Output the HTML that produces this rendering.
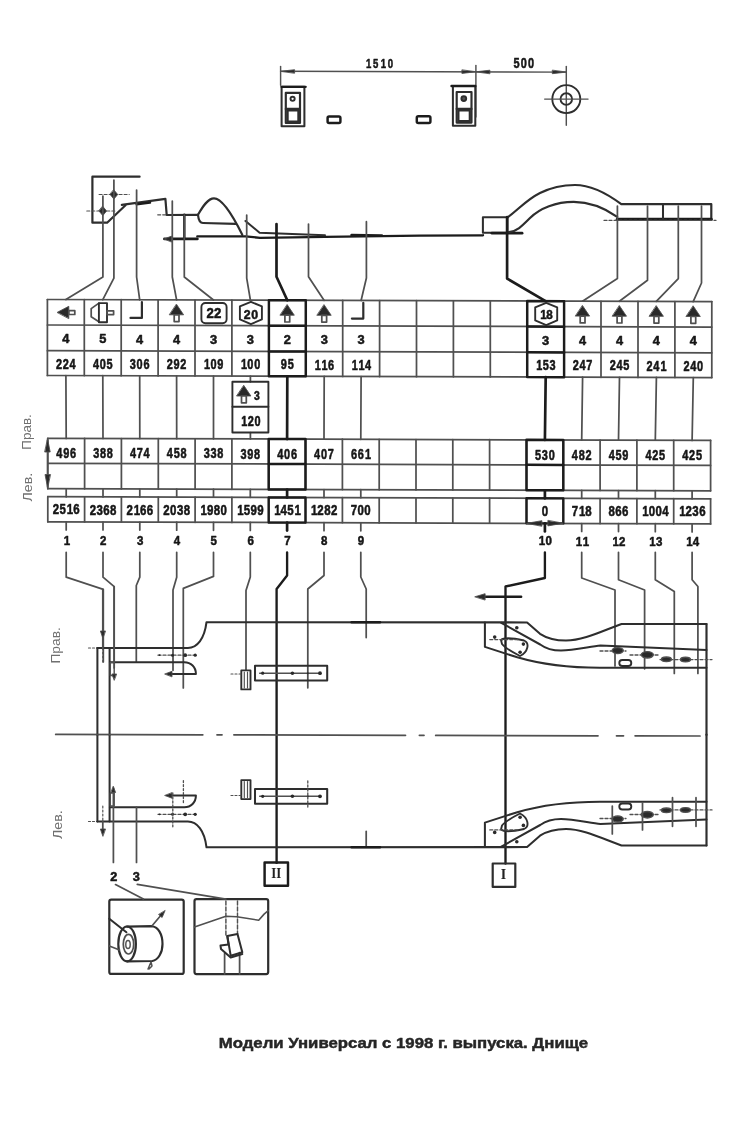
<!DOCTYPE html>
<html><head><meta charset="utf-8"><title>Днище</title>
<style>
html,body{margin:0;padding:0;background:#fff;}
body{width:733px;height:1126px;overflow:hidden;}
svg{display:block;will-change:transform;}
.d{font-family:"Liberation Sans",sans-serif;font-weight:bold;stroke:#161616;stroke-width:0.55px;}
.lb{font-family:"Liberation Sans",sans-serif;font-size:13.5px;fill:#707070;}
.cap{font-family:"Liberation Sans",sans-serif;font-weight:bold;font-size:14px;fill:#262626;}
</style></head><body>
<svg width="733" height="1126" viewBox="0 0 733 1126" stroke-linecap="round" stroke-linejoin="round">
<rect width="733" height="1126" fill="#fff"/>
<line x1="280.6" y1="71.3" x2="566.3" y2="72.1" stroke="#505050" stroke-width="1.45" />
<line x1="280.6" y1="66.4" x2="280.6" y2="85.2" stroke="#505050" stroke-width="1.45" />
<line x1="475.9" y1="65.5" x2="475.9" y2="117.0" stroke="#505050" stroke-width="1.45" />
<line x1="566.3" y1="66.4" x2="566.3" y2="125.3" stroke="#505050" stroke-width="1.45" />
<path d="M280.6,71.3 L294.6,69.7 L294.6,72.9 Z" stroke="#505050" stroke-width="0.87" fill="#2a2a2a" />
<path d="M475.9,71.8 L461.9,73.4 L461.9,70.2 Z" stroke="#505050" stroke-width="0.87" fill="#2a2a2a" />
<path d="M475.9,71.8 L489.9,70.2 L489.9,73.4 Z" stroke="#505050" stroke-width="0.87" fill="#2a2a2a" />
<path d="M566.3,72.1 L552.3,73.7 L552.3,70.5 Z" stroke="#505050" stroke-width="0.87" fill="#2a2a2a" />
<text transform="translate(0,67.6) scale(0.72,1)" x="512.08 521.81 532.64 542.36" y="0" font-size="13.3" text-anchor="middle" class="d" fill="#161616">1510</text>
<text transform="translate(0,68.3) scale(0.78,1)" x="662.31 671.54 680.77" y="0" font-size="14.0" text-anchor="middle" class="d" fill="#161616">500</text>
<rect x="281.6" y="86.8" width="22.8" height="39.5" rx="0" stroke="#2e2e2e" stroke-width="2.03" fill="none"/>
<line x1="281.6" y1="86.8" x2="305.6" y2="86.8" stroke="#1c1c1c" stroke-width="2.35" />
<rect x="285.8" y="92.8" width="14.2" height="30.2" rx="0" stroke="#2e2e2e" stroke-width="2.17" fill="none"/>
<line x1="285.8" y1="108.9" x2="300.0" y2="108.9" stroke="#2e2e2e" stroke-width="2.20" />
<rect x="287.6" y="110.4" width="10.8" height="11.2" rx="0" stroke="#2e2e2e" stroke-width="2.20" fill="none"/>
<circle cx="292.6" cy="98.8" r="2.1" stroke="#2e2e2e" stroke-width="1.89" fill="none"/>
<rect x="452.9" y="86.0" width="22.4" height="39.8" rx="0" stroke="#2e2e2e" stroke-width="2.03" fill="none"/>
<line x1="451.5" y1="86.0" x2="475.3" y2="86.0" stroke="#1c1c1c" stroke-width="2.35" />
<rect x="456.7" y="92.0" width="14.8" height="30.6" rx="0" stroke="#2e2e2e" stroke-width="2.17" fill="none"/>
<line x1="456.7" y1="108.9" x2="471.5" y2="108.9" stroke="#2e2e2e" stroke-width="2.20" />
<rect x="458.4" y="110.4" width="11.4" height="10.7" rx="0" stroke="#2e2e2e" stroke-width="2.20" fill="none"/>
<circle cx="463.8" cy="98.6" r="2.4" stroke="#2e2e2e" stroke-width="1.89" fill="#555"/>
<rect x="327.6" y="116.6" width="12.8" height="6.3" rx="1.5" stroke="#1c1c1c" stroke-width="2.46" fill="none"/>
<rect x="416.8" y="116.3" width="13.6" height="6.6" rx="1.5" stroke="#1c1c1c" stroke-width="2.46" fill="none"/>
<circle cx="566.3" cy="99.1" r="14.0" stroke="#2e2e2e" stroke-width="1.89" fill="none"/>
<circle cx="566.3" cy="99.1" r="5.8" stroke="#2e2e2e" stroke-width="1.89" fill="none"/>
<line x1="544.7" y1="99.1" x2="588.0" y2="99.1" stroke="#505050" stroke-width="1.45" />
<path d="M139.6,176.7 L92.4,176.7 L92.4,222.7 L107.1,222.7 L125.5,205.3" stroke="#2e2e2e" stroke-width="2.20" fill="none" />
<path d="M121.8,204.9 L165.4,198.8 L166.7,215.0 L198.0,214.8" stroke="#2e2e2e" stroke-width="2.20" fill="none" />
<line x1="86.8" y1="211.0" x2="115.7" y2="211.0" stroke="#505050" stroke-width="1.16" stroke-dasharray="3 2"/>
<line x1="99.1" y1="194.5" x2="129.2" y2="194.5" stroke="#505050" stroke-width="1.16" stroke-dasharray="3 2"/>
<line x1="157.7" y1="214.8" x2="166.7" y2="214.8" stroke="#505050" stroke-width="1.16" stroke-dasharray="3 2"/>
<path d="M113.9,189.9 L117.7,194.5 L113.9,199.1 L110.1,194.5 Z" stroke="#505050" stroke-width="0.87" fill="#2a2a2a" />
<path d="M102.8,206.4 L106.6,211.0 L102.8,215.6 L99.0,211.0 Z" stroke="#505050" stroke-width="0.87" fill="#2a2a2a" />
<line x1="136.6" y1="204.3" x2="150.0" y2="202.6" stroke="#1c1c1c" stroke-width="2.46" />
<path d="M198,214.8 C203,206 208,198.4 214,198.4 C222,198.4 232,214 242.3,234.8" stroke="#2e2e2e" stroke-width="2.17" fill="none" />
<path d="M198,214.8 C198.5,220 199.5,223 203,223 L235.5,223.9" stroke="#2e2e2e" stroke-width="2.17" fill="none" />
<line x1="164.5" y1="238.9" x2="197.3" y2="238.9" stroke="#1c1c1c" stroke-width="2.91" />
<path d="M164.5,238.9 L171.5,236.1 L171.5,241.7 Z" stroke="#505050" stroke-width="0.87" fill="#2a2a2a" />
<line x1="184.3" y1="214.8" x2="184.3" y2="238.9" stroke="#1c1c1c" stroke-width="2.46" />
<path d="M197.3,236.4 L245.5,236.4 L260,237.8 L325,236.8 L420,235.6 L483,235.3" stroke="#1c1c1c" stroke-width="2.35" fill="none" />
<path d="M245.5,221 L259.6,232.7 L325,235.2" stroke="#2e2e2e" stroke-width="2.03" fill="none" />
<line x1="351.6" y1="235.2" x2="381.8" y2="235.6" stroke="#1c1c1c" stroke-width="2.69" />
<rect x="482.9" y="217.3" width="24.5" height="15.4" rx="0" stroke="#2e2e2e" stroke-width="2.03" fill="none"/>
<line x1="491.9" y1="233.2" x2="522.1" y2="233.2" stroke="#1c1c1c" stroke-width="2.69" />
<path d="M507.4,217.5 C518,210 526,200 540,193 C552,187 565,185 575,185 C590,185 605,192 621.3,204.2 L711.3,204.2 L711.3,219.3" stroke="#2e2e2e" stroke-width="2.20" fill="none" />
<path d="M509,232.2 C517,231 521,227 530,218 C540,208 556,201.9 573.7,201.9 C590,202 603,207 617.2,216.8" stroke="#2e2e2e" stroke-width="2.20" fill="none" />
<line x1="617.2" y1="219.3" x2="711.3" y2="219.3" stroke="#1c1c1c" stroke-width="2.91" />
<line x1="604.0" y1="220.4" x2="716.0" y2="220.4" stroke="#505050" stroke-width="1.16" stroke-dasharray="3 2"/>
<line x1="663.0" y1="204.2" x2="663.0" y2="219.3" stroke="#2e2e2e" stroke-width="2.03" />
<path d="M102.9,196.0 L102.9,277.1 L65.9,299.6" stroke="#505050" stroke-width="1.74" fill="none" />
<path d="M113.9,180.0 L113.9,278.2 L102.8,299.7" stroke="#505050" stroke-width="1.74" fill="none" />
<path d="M136.6,190.0 L136.6,277.0 L139.7,299.8" stroke="#505050" stroke-width="1.74" fill="none" />
<path d="M172.3,201.0 L172.3,277.0 L176.6,299.9" stroke="#505050" stroke-width="1.74" fill="none" />
<path d="M184.3,215.0 L184.3,277.0 L213.5,300.0" stroke="#505050" stroke-width="1.74" fill="none" />
<path d="M246.7,215.0 L246.7,278.2 L250.4,300.1" stroke="#505050" stroke-width="1.74" fill="none" />
<path d="M276.5,224.0 L276.5,276.8 L287.3,300.3" stroke="#1c1c1c" stroke-width="2.69" fill="none" />
<path d="M308.5,224.0 L308.5,276.8 L324.2,300.4" stroke="#505050" stroke-width="1.74" fill="none" />
<path d="M366.4,221.7 L366.4,278.0 L361.1,300.5" stroke="#505050" stroke-width="1.74" fill="none" />
<path d="M507.1,217.0 L507.1,278.6 L545.6,301.1" stroke="#1c1c1c" stroke-width="2.69" fill="none" />
<path d="M617.4,206.0 L617.4,278.6 L582.5,301.2" stroke="#505050" stroke-width="1.74" fill="none" />
<path d="M647.5,206.0 L647.5,280.2 L619.4,301.3" stroke="#505050" stroke-width="1.74" fill="none" />
<path d="M678.3,206.0 L678.3,278.6 L656.3,301.4" stroke="#505050" stroke-width="1.74" fill="none" />
<path d="M701.5,206.0 L701.5,283.0 L693.2,301.6" stroke="#505050" stroke-width="1.74" fill="none" />
<line x1="47.4" y1="299.5" x2="711.8" y2="301.6" stroke="#505050" stroke-width="1.74" />
<line x1="47.4" y1="325.0" x2="711.8" y2="327.1" stroke="#505050" stroke-width="1.74" />
<line x1="47.4" y1="350.7" x2="711.8" y2="352.8" stroke="#505050" stroke-width="1.74" />
<line x1="47.4" y1="375.5" x2="711.8" y2="377.6" stroke="#505050" stroke-width="1.74" />
<line x1="47.4" y1="299.5" x2="47.4" y2="375.5" stroke="#505050" stroke-width="1.74" />
<line x1="84.3" y1="299.6" x2="84.3" y2="375.6" stroke="#505050" stroke-width="1.74" />
<line x1="121.2" y1="299.7" x2="121.2" y2="375.7" stroke="#505050" stroke-width="1.74" />
<line x1="158.1" y1="299.9" x2="158.1" y2="375.9" stroke="#505050" stroke-width="1.74" />
<line x1="195.0" y1="300.0" x2="195.0" y2="376.0" stroke="#505050" stroke-width="1.74" />
<line x1="231.9" y1="300.1" x2="231.9" y2="376.1" stroke="#505050" stroke-width="1.74" />
<line x1="268.9" y1="300.2" x2="268.9" y2="376.2" stroke="#505050" stroke-width="1.74" />
<line x1="305.8" y1="300.3" x2="305.8" y2="376.3" stroke="#505050" stroke-width="1.74" />
<line x1="342.7" y1="300.4" x2="342.7" y2="376.4" stroke="#505050" stroke-width="1.74" />
<line x1="379.6" y1="300.6" x2="379.6" y2="376.6" stroke="#505050" stroke-width="1.74" />
<line x1="416.5" y1="300.7" x2="416.5" y2="376.7" stroke="#505050" stroke-width="1.74" />
<line x1="453.4" y1="300.8" x2="453.4" y2="376.8" stroke="#505050" stroke-width="1.74" />
<line x1="490.3" y1="300.9" x2="490.3" y2="376.9" stroke="#505050" stroke-width="1.74" />
<line x1="527.2" y1="301.0" x2="527.2" y2="377.0" stroke="#505050" stroke-width="1.74" />
<line x1="564.1" y1="301.2" x2="564.1" y2="377.2" stroke="#505050" stroke-width="1.74" />
<line x1="601.0" y1="301.3" x2="601.0" y2="377.3" stroke="#505050" stroke-width="1.74" />
<line x1="638.0" y1="301.4" x2="638.0" y2="377.4" stroke="#505050" stroke-width="1.74" />
<line x1="674.9" y1="301.5" x2="674.9" y2="377.5" stroke="#505050" stroke-width="1.74" />
<line x1="711.8" y1="301.6" x2="711.8" y2="377.6" stroke="#505050" stroke-width="1.74" />
<path d="M268.9,300.2 L305.8,300.3 L305.8,376.3 L268.9,376.2 Z" stroke="#1c1c1c" stroke-width="2.46" fill="none" />
<line x1="268.9" y1="325.7" x2="305.8" y2="325.8" stroke="#1c1c1c" stroke-width="2.46" />
<line x1="268.9" y1="351.4" x2="305.8" y2="351.5" stroke="#1c1c1c" stroke-width="2.46" />
<path d="M527.2,301.0 L564.1,301.2 L564.1,377.2 L527.2,377.0 Z" stroke="#1c1c1c" stroke-width="2.46" fill="none" />
<line x1="527.2" y1="326.5" x2="564.1" y2="326.7" stroke="#1c1c1c" stroke-width="2.46" />
<line x1="527.2" y1="352.2" x2="564.1" y2="352.4" stroke="#1c1c1c" stroke-width="2.46" />
<line x1="47.8" y1="438.3" x2="710.6" y2="440.4" stroke="#505050" stroke-width="1.74" />
<line x1="47.8" y1="463.3" x2="710.6" y2="465.4" stroke="#505050" stroke-width="1.74" />
<line x1="47.8" y1="488.7" x2="710.6" y2="490.8" stroke="#505050" stroke-width="1.74" />
<line x1="47.8" y1="438.3" x2="47.8" y2="488.7" stroke="#505050" stroke-width="1.74" />
<line x1="84.6" y1="438.4" x2="84.6" y2="488.8" stroke="#505050" stroke-width="1.74" />
<line x1="121.4" y1="438.5" x2="121.4" y2="488.9" stroke="#505050" stroke-width="1.74" />
<line x1="158.3" y1="438.7" x2="158.3" y2="489.1" stroke="#505050" stroke-width="1.74" />
<line x1="195.1" y1="438.8" x2="195.1" y2="489.2" stroke="#505050" stroke-width="1.74" />
<line x1="231.9" y1="438.9" x2="231.9" y2="489.3" stroke="#505050" stroke-width="1.74" />
<line x1="268.7" y1="439.0" x2="268.7" y2="489.4" stroke="#505050" stroke-width="1.74" />
<line x1="305.5" y1="439.1" x2="305.5" y2="489.5" stroke="#505050" stroke-width="1.74" />
<line x1="342.4" y1="439.2" x2="342.4" y2="489.6" stroke="#505050" stroke-width="1.74" />
<line x1="379.2" y1="439.4" x2="379.2" y2="489.8" stroke="#505050" stroke-width="1.74" />
<line x1="416.0" y1="439.5" x2="416.0" y2="489.9" stroke="#505050" stroke-width="1.74" />
<line x1="452.8" y1="439.6" x2="452.8" y2="490.0" stroke="#505050" stroke-width="1.74" />
<line x1="489.6" y1="439.7" x2="489.6" y2="490.1" stroke="#505050" stroke-width="1.74" />
<line x1="526.5" y1="439.8" x2="526.5" y2="490.2" stroke="#505050" stroke-width="1.74" />
<line x1="563.3" y1="439.9" x2="563.3" y2="490.3" stroke="#505050" stroke-width="1.74" />
<line x1="600.1" y1="440.1" x2="600.1" y2="490.5" stroke="#505050" stroke-width="1.74" />
<line x1="636.9" y1="440.2" x2="636.9" y2="490.6" stroke="#505050" stroke-width="1.74" />
<line x1="673.7" y1="440.3" x2="673.7" y2="490.7" stroke="#505050" stroke-width="1.74" />
<line x1="710.6" y1="440.4" x2="710.6" y2="490.8" stroke="#505050" stroke-width="1.74" />
<path d="M268.7,439.0 L305.5,439.1 L305.5,489.5 L268.7,489.4 Z" stroke="#1c1c1c" stroke-width="2.46" fill="none" />
<line x1="268.7" y1="464.0" x2="305.5" y2="464.1" stroke="#1c1c1c" stroke-width="2.46" />
<path d="M526.5,439.8 L563.3,439.9 L563.3,490.3 L526.5,490.2 Z" stroke="#1c1c1c" stroke-width="2.46" fill="none" />
<line x1="526.5" y1="464.8" x2="563.3" y2="464.9" stroke="#1c1c1c" stroke-width="2.46" />
<line x1="47.8" y1="496.7" x2="710.6" y2="498.8" stroke="#505050" stroke-width="1.74" />
<line x1="47.8" y1="521.8" x2="710.6" y2="523.9" stroke="#505050" stroke-width="1.74" />
<line x1="47.8" y1="496.7" x2="47.8" y2="521.8" stroke="#505050" stroke-width="1.74" />
<line x1="84.6" y1="496.8" x2="84.6" y2="521.9" stroke="#505050" stroke-width="1.74" />
<line x1="121.4" y1="496.9" x2="121.4" y2="522.0" stroke="#505050" stroke-width="1.74" />
<line x1="158.3" y1="497.1" x2="158.3" y2="522.2" stroke="#505050" stroke-width="1.74" />
<line x1="195.1" y1="497.2" x2="195.1" y2="522.3" stroke="#505050" stroke-width="1.74" />
<line x1="231.9" y1="497.3" x2="231.9" y2="522.4" stroke="#505050" stroke-width="1.74" />
<line x1="268.7" y1="497.4" x2="268.7" y2="522.5" stroke="#505050" stroke-width="1.74" />
<line x1="305.5" y1="497.5" x2="305.5" y2="522.6" stroke="#505050" stroke-width="1.74" />
<line x1="342.4" y1="497.6" x2="342.4" y2="522.7" stroke="#505050" stroke-width="1.74" />
<line x1="379.2" y1="497.8" x2="379.2" y2="522.9" stroke="#505050" stroke-width="1.74" />
<line x1="416.0" y1="497.9" x2="416.0" y2="523.0" stroke="#505050" stroke-width="1.74" />
<line x1="452.8" y1="498.0" x2="452.8" y2="523.1" stroke="#505050" stroke-width="1.74" />
<line x1="489.6" y1="498.1" x2="489.6" y2="523.2" stroke="#505050" stroke-width="1.74" />
<line x1="526.5" y1="498.2" x2="526.5" y2="523.3" stroke="#505050" stroke-width="1.74" />
<line x1="563.3" y1="498.3" x2="563.3" y2="523.4" stroke="#505050" stroke-width="1.74" />
<line x1="600.1" y1="498.5" x2="600.1" y2="523.6" stroke="#505050" stroke-width="1.74" />
<line x1="636.9" y1="498.6" x2="636.9" y2="523.7" stroke="#505050" stroke-width="1.74" />
<line x1="673.7" y1="498.7" x2="673.7" y2="523.8" stroke="#505050" stroke-width="1.74" />
<line x1="710.6" y1="498.8" x2="710.6" y2="523.9" stroke="#505050" stroke-width="1.74" />
<path d="M268.7,497.4 L305.5,497.5 L305.5,522.6 L268.7,522.5 Z" stroke="#1c1c1c" stroke-width="2.35" fill="none" />
<path d="M526.5,498.2 L563.3,498.3 L563.3,523.4 L526.5,523.3 Z" stroke="#1c1c1c" stroke-width="2.35" fill="none" />
<path d="M57.4,312.3 L68.8,306.3 L68.8,318.3 Z" stroke="#505050" stroke-width="0.87" fill="#2a2a2a" />
<rect x="68.8" y="310.7" width="6.0" height="3.8" rx="0" stroke="#505050" stroke-width="1.74" fill="none"/>
<text transform="translate(0,343.3) scale(1.0,1)" x="65.86" y="0" font-size="12.8" text-anchor="middle" class="d" fill="#161616">4</text>
<text transform="translate(0,368.7) scale(0.78,1)" x="75.71 84.43 93.15" y="0" font-size="14.0" text-anchor="middle" class="d" fill="#161616">224</text>
<path d="M98.9,303.1 L91.2,308.6 L91.2,316.8 L98.9,321.7" stroke="#505050" stroke-width="1.74" fill="none" />
<rect x="98.9" y="303.1" width="8.1" height="19.1" rx="0" stroke="#2e2e2e" stroke-width="1.89" fill="none"/>
<rect x="107.0" y="310.8" width="6.6" height="3.8" rx="0" stroke="#505050" stroke-width="1.74" fill="none"/>
<text transform="translate(0,343.4) scale(1.0,1)" x="102.77" y="0" font-size="12.8" text-anchor="middle" class="d" fill="#161616">5</text>
<text transform="translate(0,368.8) scale(0.78,1)" x="123.03 131.75 140.47" y="0" font-size="14.0" text-anchor="middle" class="d" fill="#161616">405</text>
<path d="M141.9,302.1 L141.9,317.9 L130.5,317.9" stroke="#2e2e2e" stroke-width="2.20" fill="none" />
<text transform="translate(0,343.5) scale(1.0,1)" x="139.68" y="0" font-size="12.8" text-anchor="middle" class="d" fill="#161616">4</text>
<text transform="translate(0,368.9) scale(0.78,1)" x="170.35 179.07 187.79" y="0" font-size="14.0" text-anchor="middle" class="d" fill="#161616">306</text>
<path d="M176.6,304.4 L183.6,314.8 L169.6,314.8 Z" stroke="#505050" stroke-width="0.87" fill="#2a2a2a" />
<rect x="174.2" y="314.8" width="4.8" height="6.8" rx="0" stroke="#505050" stroke-width="1.74" fill="#fff"/>
<text transform="translate(0,343.6) scale(1.0,1)" x="176.58" y="0" font-size="12.8" text-anchor="middle" class="d" fill="#161616">4</text>
<text transform="translate(0,369.0) scale(0.78,1)" x="217.67 226.39 235.11" y="0" font-size="14.0" text-anchor="middle" class="d" fill="#161616">292</text>
<rect x="201.4" y="303.0" width="25.2" height="20.3" rx="4" stroke="#2e2e2e" stroke-width="1.89" fill="none"/>
<text transform="translate(0,318.0) scale(0.9,1)" x="233.55 241.99" y="0" font-size="14.7" text-anchor="middle" class="d" fill="#161616">22</text>
<text transform="translate(0,343.7) scale(1.0,1)" x="213.50" y="0" font-size="12.8" text-anchor="middle" class="d" fill="#161616">3</text>
<text transform="translate(0,369.1) scale(0.78,1)" x="265.51 273.71 282.43" y="0" font-size="14.0" text-anchor="middle" class="d" fill="#161616">109</text>
<path d="M250.9,301.9 L261.9,306.3 L261.9,319.4 L250.9,324.1 L239.9,319.4 L239.9,306.3 Z" stroke="#2e2e2e" stroke-width="1.89" fill="none" />
<text transform="translate(0,318.6) scale(0.9,1)" x="274.67 282.89" y="0" font-size="13.7" text-anchor="middle" class="d" fill="#161616">20</text>
<text transform="translate(0,343.8) scale(1.0,1)" x="250.40" y="0" font-size="12.8" text-anchor="middle" class="d" fill="#161616">3</text>
<text transform="translate(0,369.2) scale(0.78,1)" x="312.83 321.03 329.75" y="0" font-size="14.0" text-anchor="middle" class="d" fill="#161616">100</text>
<path d="M287.3,304.8 L294.3,315.2 L280.3,315.2 Z" stroke="#505050" stroke-width="0.87" fill="#2a2a2a" />
<rect x="284.9" y="315.2" width="4.8" height="6.8" rx="0" stroke="#505050" stroke-width="1.74" fill="#fff"/>
<text transform="translate(0,344.0) scale(1.0,1)" x="287.31" y="0" font-size="12.8" text-anchor="middle" class="d" fill="#161616">2</text>
<text transform="translate(0,369.4) scale(0.78,1)" x="363.99 372.71" y="0" font-size="14.0" text-anchor="middle" class="d" fill="#161616">95</text>
<path d="M324.2,304.9 L331.2,315.3 L317.2,315.3 Z" stroke="#505050" stroke-width="0.87" fill="#2a2a2a" />
<rect x="321.8" y="315.3" width="4.8" height="6.8" rx="0" stroke="#505050" stroke-width="1.74" fill="#fff"/>
<text transform="translate(0,344.1) scale(1.0,1)" x="324.22" y="0" font-size="12.8" text-anchor="middle" class="d" fill="#161616">3</text>
<text transform="translate(0,369.5) scale(0.78,1)" x="407.47 416.19 424.39" y="0" font-size="14.0" text-anchor="middle" class="d" fill="#161616">116</text>
<path d="M363.3,302.8 L363.3,318.6 L351.9,318.6" stroke="#2e2e2e" stroke-width="2.20" fill="none" />
<text transform="translate(0,344.2) scale(1.0,1)" x="361.13" y="0" font-size="12.8" text-anchor="middle" class="d" fill="#161616">3</text>
<text transform="translate(0,369.6) scale(0.78,1)" x="454.79 463.51 471.71" y="0" font-size="14.0" text-anchor="middle" class="d" fill="#161616">114</text>
<path d="M546.2,302.9 L557.2,307.3 L557.2,320.4 L546.2,325.1 L535.2,320.4 L535.2,307.3 Z" stroke="#2e2e2e" stroke-width="1.89" fill="none" />
<text transform="translate(0,319.0) scale(0.85,1)" x="639.28 646.34" y="0" font-size="13.7" text-anchor="middle" class="d" fill="#161616">18</text>
<text transform="translate(0,344.8) scale(1.0,1)" x="545.68" y="0" font-size="12.8" text-anchor="middle" class="d" fill="#161616">3</text>
<text transform="translate(0,370.2) scale(0.78,1)" x="691.39 699.60 708.31" y="0" font-size="14.0" text-anchor="middle" class="d" fill="#161616">153</text>
<path d="M582.6,305.7 L589.6,316.1 L575.6,316.1 Z" stroke="#505050" stroke-width="0.87" fill="#2a2a2a" />
<rect x="580.2" y="316.1" width="4.8" height="6.8" rx="0" stroke="#505050" stroke-width="1.74" fill="#fff"/>
<text transform="translate(0,344.9) scale(1.0,1)" x="582.60" y="0" font-size="12.8" text-anchor="middle" class="d" fill="#161616">4</text>
<text transform="translate(0,370.3) scale(0.78,1)" x="738.20 746.92 755.63" y="0" font-size="14.0" text-anchor="middle" class="d" fill="#161616">247</text>
<path d="M619.5,305.8 L626.5,316.2 L612.5,316.2 Z" stroke="#505050" stroke-width="0.87" fill="#2a2a2a" />
<rect x="617.1" y="316.2" width="4.8" height="6.8" rx="0" stroke="#505050" stroke-width="1.74" fill="#fff"/>
<text transform="translate(0,345.0) scale(1.0,1)" x="619.50" y="0" font-size="12.8" text-anchor="middle" class="d" fill="#161616">4</text>
<text transform="translate(0,370.4) scale(0.78,1)" x="785.52 794.24 802.96" y="0" font-size="14.0" text-anchor="middle" class="d" fill="#161616">245</text>
<path d="M656.4,305.9 L663.4,316.3 L649.4,316.3 Z" stroke="#505050" stroke-width="0.87" fill="#2a2a2a" />
<rect x="654.0" y="316.3" width="4.8" height="6.8" rx="0" stroke="#505050" stroke-width="1.74" fill="#fff"/>
<text transform="translate(0,345.1) scale(1.0,1)" x="656.41" y="0" font-size="12.8" text-anchor="middle" class="d" fill="#161616">4</text>
<text transform="translate(0,370.5) scale(0.78,1)" x="832.84 841.56 850.79" y="0" font-size="14.0" text-anchor="middle" class="d" fill="#161616">241</text>
<path d="M693.3,306.1 L700.3,316.5 L686.3,316.5 Z" stroke="#505050" stroke-width="0.87" fill="#2a2a2a" />
<rect x="690.9" y="316.5" width="4.8" height="6.8" rx="0" stroke="#505050" stroke-width="1.74" fill="#fff"/>
<text transform="translate(0,345.3) scale(1.0,1)" x="693.32" y="0" font-size="12.8" text-anchor="middle" class="d" fill="#161616">4</text>
<text transform="translate(0,370.7) scale(0.78,1)" x="880.16 888.88 897.60" y="0" font-size="14.0" text-anchor="middle" class="d" fill="#161616">240</text>
<text transform="translate(0,458.0) scale(0.78,1)" x="76.17 84.88 93.60" y="0" font-size="14.0" text-anchor="middle" class="d" fill="#161616">496</text>
<text transform="translate(0,514.4) scale(0.78,1)" x="71.81 80.53 89.76 97.96" y="0" font-size="14.7" text-anchor="middle" class="d" fill="#161616">2516</text>
<text transform="translate(0,458.1) scale(0.78,1)" x="123.37 132.09 140.81" y="0" font-size="14.0" text-anchor="middle" class="d" fill="#161616">388</text>
<text transform="translate(0,514.5) scale(0.78,1)" x="119.01 127.73 136.45 145.17" y="0" font-size="14.7" text-anchor="middle" class="d" fill="#161616">2368</text>
<text transform="translate(0,458.2) scale(0.78,1)" x="170.58 179.29 188.01" y="0" font-size="14.0" text-anchor="middle" class="d" fill="#161616">474</text>
<text transform="translate(0,514.6) scale(0.78,1)" x="166.22 175.45 183.65 192.37" y="0" font-size="14.7" text-anchor="middle" class="d" fill="#161616">2166</text>
<text transform="translate(0,458.3) scale(0.78,1)" x="217.78 226.50 235.22" y="0" font-size="14.0" text-anchor="middle" class="d" fill="#161616">458</text>
<text transform="translate(0,514.7) scale(0.78,1)" x="213.42 222.14 230.86 239.58" y="0" font-size="14.7" text-anchor="middle" class="d" fill="#161616">2038</text>
<text transform="translate(0,458.4) scale(0.78,1)" x="264.99 273.71 282.42" y="0" font-size="14.0" text-anchor="middle" class="d" fill="#161616">338</text>
<text transform="translate(0,514.8) scale(0.78,1)" x="261.14 269.35 278.06 286.78" y="0" font-size="14.7" text-anchor="middle" class="d" fill="#161616">1980</text>
<text transform="translate(0,458.5) scale(0.78,1)" x="312.19 320.91 329.63" y="0" font-size="14.0" text-anchor="middle" class="d" fill="#161616">398</text>
<text transform="translate(0,514.9) scale(0.78,1)" x="308.35 316.55 325.27 333.99" y="0" font-size="14.7" text-anchor="middle" class="d" fill="#161616">1599</text>
<text transform="translate(0,458.7) scale(0.78,1)" x="359.40 368.12 376.83" y="0" font-size="14.0" text-anchor="middle" class="d" fill="#161616">406</text>
<text transform="translate(0,515.1) scale(0.78,1)" x="355.55 363.76 372.47 381.71" y="0" font-size="14.7" text-anchor="middle" class="d" fill="#161616">1451</text>
<text transform="translate(0,458.8) scale(0.78,1)" x="406.60 415.32 424.04" y="0" font-size="14.0" text-anchor="middle" class="d" fill="#161616">407</text>
<text transform="translate(0,515.2) scale(0.78,1)" x="402.76 410.96 419.68 428.40" y="0" font-size="14.7" text-anchor="middle" class="d" fill="#161616">1282</text>
<text transform="translate(0,458.9) scale(0.78,1)" x="453.81 462.53 471.76" y="0" font-size="14.0" text-anchor="middle" class="d" fill="#161616">661</text>
<text transform="translate(0,515.3) scale(0.78,1)" x="453.81 462.53 471.24" y="0" font-size="14.7" text-anchor="middle" class="d" fill="#161616">700</text>
<text transform="translate(0,459.5) scale(0.78,1)" x="689.83 698.55 707.27" y="0" font-size="14.0" text-anchor="middle" class="d" fill="#161616">530</text>
<text transform="translate(0,515.9) scale(0.78,1)" x="698.55" y="0" font-size="14.7" text-anchor="middle" class="d" fill="#161616">0</text>
<text transform="translate(0,459.6) scale(0.78,1)" x="737.04 745.76 754.47" y="0" font-size="14.0" text-anchor="middle" class="d" fill="#161616">482</text>
<text transform="translate(0,516.0) scale(0.78,1)" x="737.04 746.27 754.47" y="0" font-size="14.7" text-anchor="middle" class="d" fill="#161616">718</text>
<text transform="translate(0,459.7) scale(0.78,1)" x="784.24 792.96 801.68" y="0" font-size="14.0" text-anchor="middle" class="d" fill="#161616">459</text>
<text transform="translate(0,516.1) scale(0.78,1)" x="784.24 792.96 801.68" y="0" font-size="14.7" text-anchor="middle" class="d" fill="#161616">866</text>
<text transform="translate(0,459.8) scale(0.78,1)" x="831.45 840.17 848.88" y="0" font-size="14.0" text-anchor="middle" class="d" fill="#161616">425</text>
<text transform="translate(0,516.2) scale(0.78,1)" x="827.60 835.81 844.53 853.24" y="0" font-size="14.7" text-anchor="middle" class="d" fill="#161616">1004</text>
<text transform="translate(0,460.0) scale(0.78,1)" x="878.65 887.37 896.09" y="0" font-size="14.0" text-anchor="middle" class="d" fill="#161616">425</text>
<text transform="translate(0,516.4) scale(0.78,1)" x="874.81 883.01 891.73 900.45" y="0" font-size="14.7" text-anchor="middle" class="d" fill="#161616">1236</text>
<line x1="65.9" y1="375.6" x2="66.2" y2="438.4" stroke="#505050" stroke-width="1.74" />
<line x1="66.2" y1="488.8" x2="66.2" y2="496.8" stroke="#505050" stroke-width="1.74" />
<line x1="66.2" y1="521.9" x2="66.2" y2="529.9" stroke="#505050" stroke-width="1.74" />
<line x1="102.8" y1="375.7" x2="103.0" y2="438.5" stroke="#505050" stroke-width="1.74" />
<line x1="103.0" y1="488.9" x2="103.0" y2="496.9" stroke="#505050" stroke-width="1.74" />
<line x1="103.0" y1="522.0" x2="103.0" y2="530.0" stroke="#505050" stroke-width="1.74" />
<line x1="139.7" y1="375.8" x2="139.8" y2="438.6" stroke="#505050" stroke-width="1.74" />
<line x1="139.8" y1="489.0" x2="139.8" y2="497.0" stroke="#505050" stroke-width="1.74" />
<line x1="139.8" y1="522.1" x2="139.8" y2="530.1" stroke="#505050" stroke-width="1.74" />
<line x1="176.6" y1="375.9" x2="176.7" y2="438.7" stroke="#505050" stroke-width="1.74" />
<line x1="176.7" y1="489.1" x2="176.7" y2="497.1" stroke="#505050" stroke-width="1.74" />
<line x1="176.7" y1="522.2" x2="176.7" y2="530.2" stroke="#505050" stroke-width="1.74" />
<line x1="213.5" y1="376.0" x2="213.5" y2="438.8" stroke="#505050" stroke-width="1.74" />
<line x1="213.5" y1="489.2" x2="213.5" y2="497.2" stroke="#505050" stroke-width="1.74" />
<line x1="213.5" y1="522.3" x2="213.5" y2="530.3" stroke="#505050" stroke-width="1.74" />
<line x1="250.4" y1="376.1" x2="250.4" y2="381.8" stroke="#505050" stroke-width="1.74" />
<line x1="250.4" y1="432.5" x2="250.4" y2="438.9" stroke="#505050" stroke-width="1.74" />
<line x1="250.3" y1="489.3" x2="250.3" y2="497.3" stroke="#505050" stroke-width="1.74" />
<line x1="250.3" y1="522.4" x2="250.3" y2="530.4" stroke="#505050" stroke-width="1.74" />
<line x1="287.3" y1="376.3" x2="287.1" y2="439.1" stroke="#1c1c1c" stroke-width="2.69" />
<line x1="287.1" y1="489.5" x2="287.1" y2="497.5" stroke="#1c1c1c" stroke-width="2.69" />
<line x1="287.1" y1="522.6" x2="287.1" y2="530.6" stroke="#1c1c1c" stroke-width="2.69" />
<line x1="324.2" y1="376.4" x2="324.0" y2="439.2" stroke="#505050" stroke-width="1.74" />
<line x1="324.0" y1="489.6" x2="324.0" y2="497.6" stroke="#505050" stroke-width="1.74" />
<line x1="324.0" y1="522.7" x2="324.0" y2="530.7" stroke="#505050" stroke-width="1.74" />
<line x1="361.1" y1="376.5" x2="360.8" y2="439.3" stroke="#505050" stroke-width="1.74" />
<line x1="360.8" y1="489.7" x2="360.8" y2="497.7" stroke="#505050" stroke-width="1.74" />
<line x1="360.8" y1="522.8" x2="360.8" y2="530.8" stroke="#505050" stroke-width="1.74" />
<line x1="545.7" y1="377.1" x2="544.9" y2="439.9" stroke="#1c1c1c" stroke-width="2.69" />
<line x1="544.9" y1="490.3" x2="544.9" y2="498.3" stroke="#1c1c1c" stroke-width="2.69" />
<line x1="544.9" y1="523.4" x2="544.9" y2="531.4" stroke="#1c1c1c" stroke-width="2.69" />
<line x1="582.6" y1="377.2" x2="581.7" y2="440.0" stroke="#505050" stroke-width="1.74" />
<line x1="581.7" y1="490.4" x2="581.7" y2="498.4" stroke="#505050" stroke-width="1.74" />
<line x1="581.7" y1="523.5" x2="581.7" y2="531.5" stroke="#505050" stroke-width="1.74" />
<line x1="619.5" y1="377.3" x2="618.5" y2="440.1" stroke="#505050" stroke-width="1.74" />
<line x1="618.5" y1="490.5" x2="618.5" y2="498.5" stroke="#505050" stroke-width="1.74" />
<line x1="618.5" y1="523.6" x2="618.5" y2="531.6" stroke="#505050" stroke-width="1.74" />
<line x1="656.4" y1="377.4" x2="655.3" y2="440.2" stroke="#505050" stroke-width="1.74" />
<line x1="655.3" y1="490.6" x2="655.3" y2="498.6" stroke="#505050" stroke-width="1.74" />
<line x1="655.3" y1="523.7" x2="655.3" y2="531.7" stroke="#505050" stroke-width="1.74" />
<line x1="693.3" y1="377.6" x2="692.1" y2="440.4" stroke="#505050" stroke-width="1.74" />
<line x1="692.1" y1="490.8" x2="692.1" y2="498.8" stroke="#505050" stroke-width="1.74" />
<line x1="692.1" y1="523.9" x2="692.1" y2="531.9" stroke="#505050" stroke-width="1.74" />
<rect x="232.4" y="381.8" width="36.0" height="50.7" rx="0" stroke="#2e2e2e" stroke-width="1.89" fill="none"/>
<line x1="232.4" y1="406.8" x2="268.4" y2="406.8" stroke="#2e2e2e" stroke-width="1.89" />
<path d="M243.9,385.6 L250.9,396.0 L236.9,396.0 Z" stroke="#505050" stroke-width="0.87" fill="#2a2a2a" />
<rect x="241.5" y="396.0" width="4.8" height="6.8" rx="0" stroke="#505050" stroke-width="1.74" fill="#fff"/>
<text transform="translate(0,400.3) scale(0.78,1)" x="329.49" y="0" font-size="13.3" text-anchor="middle" class="d" fill="#161616">3</text>
<text transform="translate(0,425.7) scale(0.78,1)" x="313.33 321.54 330.26" y="0" font-size="14.0" text-anchor="middle" class="d" fill="#161616">120</text>
<line x1="47.6" y1="440.0" x2="47.6" y2="487.0" stroke="#505050" stroke-width="1.74" />
<path d="M47.6,439.0 L50.2,452.0 L45.0,452.0 Z" stroke="#505050" stroke-width="0.87" fill="#2a2a2a" />
<path d="M47.6,487.5 L45.0,474.5 L50.2,474.5 Z" stroke="#505050" stroke-width="0.87" fill="#2a2a2a" />
<path d="M526.9,523.3 L541.9,520.7 L541.9,525.9 Z" stroke="#505050" stroke-width="0.87" fill="#2a2a2a" />
<path d="M562.9,523.3 L547.9,525.9 L547.9,520.7 Z" stroke="#505050" stroke-width="0.87" fill="#2a2a2a" />
<text class="lb" transform="translate(31,449.8) rotate(-90)" textLength="35.6" lengthAdjust="spacingAndGlyphs">Прав.</text>
<text class="lb" transform="translate(32.3,501.5) rotate(-90)" textLength="28.6" lengthAdjust="spacingAndGlyphs">Лев.</text>
<text class="lb" transform="translate(60,663.6) rotate(-90)" textLength="36.4" lengthAdjust="spacingAndGlyphs">Прав.</text>
<text class="lb" transform="translate(61.5,839) rotate(-90)" textLength="28.7" lengthAdjust="spacingAndGlyphs">Лев.</text>
<text transform="translate(0,544.6) scale(0.86,1)" x="77.80" y="0" font-size="13.4" text-anchor="middle" class="d" fill="#161616">1</text>
<path d="M66.2,552.3 L66.2,577.2 L103.3,589.4 L103.3,662.0" stroke="#505050" stroke-width="1.74" fill="none" />
<text transform="translate(0,544.7) scale(0.86,1)" x="120.15" y="0" font-size="13.4" text-anchor="middle" class="d" fill="#161616">2</text>
<path d="M103.0,552.3 L103.0,577.2 L114.2,586.6 L114.2,668.0" stroke="#505050" stroke-width="1.74" fill="none" />
<text transform="translate(0,544.7) scale(0.86,1)" x="162.97" y="0" font-size="13.4" text-anchor="middle" class="d" fill="#161616">3</text>
<path d="M139.8,552.3 L139.8,577.2 L136.3,585.5 L136.3,661.4" stroke="#505050" stroke-width="1.74" fill="none" />
<text transform="translate(0,544.8) scale(0.86,1)" x="205.78" y="0" font-size="13.4" text-anchor="middle" class="d" fill="#161616">4</text>
<path d="M176.7,552.3 L176.7,577.2 L173.0,589.9 L173.0,670.3" stroke="#505050" stroke-width="1.74" fill="none" />
<text transform="translate(0,544.9) scale(0.86,1)" x="248.59" y="0" font-size="13.4" text-anchor="middle" class="d" fill="#161616">5</text>
<path d="M213.5,552.3 L213.5,576.4 L183.3,588.4 L183.3,688.0" stroke="#505050" stroke-width="1.74" fill="none" />
<text transform="translate(0,544.9) scale(0.86,1)" x="291.41" y="0" font-size="13.4" text-anchor="middle" class="d" fill="#161616">6</text>
<path d="M250.3,552.3 L250.3,577.0 L246.0,590.5 L246.0,670.0" stroke="#505050" stroke-width="1.74" fill="none" />
<text transform="translate(0,545.0) scale(0.86,1)" x="334.22" y="0" font-size="13.4" text-anchor="middle" class="d" fill="#161616">7</text>
<path d="M287.1,552.3 L287.1,575.5 L276.6,589.0 L276.6,862.9" stroke="#1c1c1c" stroke-width="2.35" fill="none" />
<text transform="translate(0,545.0) scale(0.86,1)" x="377.03" y="0" font-size="13.4" text-anchor="middle" class="d" fill="#161616">8</text>
<path d="M324.0,552.3 L324.0,575.5 L307.8,589.0 L307.8,687.8" stroke="#505050" stroke-width="1.74" fill="none" />
<text transform="translate(0,545.1) scale(0.86,1)" x="419.85" y="0" font-size="13.4" text-anchor="middle" class="d" fill="#161616">9</text>
<path d="M360.8,552.3 L360.8,577.0 L366.2,589.0 L366.2,637.6" stroke="#505050" stroke-width="1.74" fill="none" />
<text transform="translate(0,545.4) scale(0.86,1)" x="630.31 637.99" y="0" font-size="13.4" text-anchor="middle" class="d" fill="#161616">10</text>
<path d="M544.9,552.3 L544.9,578.0 L505.5,586.5 L505.5,863.5" stroke="#1c1c1c" stroke-width="2.35" fill="none" />
<text transform="translate(0,545.5) scale(0.86,1)" x="673.13 681.27" y="0" font-size="13.4" text-anchor="middle" class="d" fill="#161616">11</text>
<path d="M581.7,552.3 L581.7,578.0 L615.0,590.0 L615.0,665.9" stroke="#505050" stroke-width="1.74" fill="none" />
<text transform="translate(0,545.5) scale(0.86,1)" x="715.94 723.62" y="0" font-size="13.4" text-anchor="middle" class="d" fill="#161616">12</text>
<path d="M618.5,552.3 L618.5,579.7 L644.6,590.0 L644.6,668.8" stroke="#505050" stroke-width="1.74" fill="none" />
<text transform="translate(0,545.6) scale(0.86,1)" x="758.76 766.43" y="0" font-size="13.4" text-anchor="middle" class="d" fill="#161616">13</text>
<path d="M655.3,552.3 L655.3,579.7 L674.3,591.6 L674.3,673.5" stroke="#505050" stroke-width="1.74" fill="none" />
<text transform="translate(0,545.6) scale(0.86,1)" x="801.57 809.24" y="0" font-size="13.4" text-anchor="middle" class="d" fill="#161616">14</text>
<path d="M692.1,552.3 L692.1,579.7 L697.9,586.5 L697.9,673.5" stroke="#505050" stroke-width="1.74" fill="none" />
<path d="M97.4,648 L187.9,648 C197,648 204.5,639 206.5,622.2 L527.1,622.4 L540,633.8 C548,639 556,640.5 566,640.5 C584,640.5 604,630 621.5,624 L706.5,624" stroke="#2e2e2e" stroke-width="2.03" fill="none"/>
<line x1="88.5" y1="648" x2="97.4" y2="648" stroke="#505050" stroke-width="1.16" stroke-dasharray="2 2"/>
<path d="M501.3,622.8 L540.2,644.5 C547,649.5 553,650.6 561,650.6 C574,650.6 590,646.5 600.5,645.5 L706.5,650" stroke="#2e2e2e" stroke-width="2.03" fill="none"/>
<path d="M484.9,622.4 L484.9,646.9 L517.3,657.3 C540,664 570,667.8 600,667.8 L706.5,667.8" stroke="#2e2e2e" stroke-width="2.03" fill="none"/>
<line x1="706.5" y1="624" x2="706.5" y2="735" stroke="#2e2e2e" stroke-width="2.17"/>
<line x1="97.4" y1="648" x2="97.4" y2="735" stroke="#2e2e2e" stroke-width="2.03"/>
<line x1="109.6" y1="648" x2="109.6" y2="735" stroke="#2e2e2e" stroke-width="2.03"/>
<path d="M109.9,662.3 L184.3,662.3 C191,662.3 195.9,667 195.9,673.9 L170,673.9" stroke="#2e2e2e" stroke-width="2.03" fill="none"/>
<path d="M165,673.9 L172,671.3 L172,676.5 Z" fill="#2a2a2a" stroke="#505050" stroke-width="0.87"/>
<line x1="158" y1="655.2" x2="196" y2="655.2" stroke="#505050" stroke-width="1.30" stroke-dasharray="3 2"/>
<circle cx="159.5" cy="655.2" r="0.9" fill="#2a2a2a"/>
<circle cx="172.5" cy="655.2" r="1.5" fill="#2a2a2a"/>
<circle cx="185.2" cy="655.2" r="1.9" fill="#2a2a2a"/>
<circle cx="195.2" cy="655.2" r="1.6" fill="#2a2a2a"/>
<rect x="255" y="665.7" width="72.2" height="14.9" stroke="#2e2e2e" stroke-width="2.03" fill="none"/>
<line x1="259.7" y1="673.2" x2="320" y2="673.2" stroke="#505050" stroke-width="1.45"/>
<circle cx="262.7" cy="673.2" r="1.6" fill="#2a2a2a"/>
<circle cx="292.4" cy="673.2" r="1.8" fill="#2a2a2a"/>
<circle cx="307.8" cy="673.2" r="1.0" fill="#2a2a2a"/>
<circle cx="320" cy="673.2" r="1.9" fill="#2a2a2a"/>
<rect x="241.3" y="670.4" width="9.2" height="19" stroke="#2e2e2e" stroke-width="1.89" fill="none"/>
<line x1="244.3" y1="672" x2="244.3" y2="688" stroke="#505050" stroke-width="1.16"/>
<line x1="247.5" y1="672" x2="247.5" y2="688" stroke="#505050" stroke-width="1.16"/>
<line x1="231" y1="674" x2="241" y2="674" stroke="#505050" stroke-width="1.16" stroke-dasharray="2 2"/>
<path d="M501,640 C505,636.5 515,638.5 524,640.5 C530,643 528,652 520,656 C512,652 505,648 502,644 Z" stroke="#2e2e2e" stroke-width="1.89" fill="none"/>
<line x1="489.8" y1="639.6" x2="518.5" y2="639.6" stroke="#505050" stroke-width="1.30" stroke-dasharray="3 2"/>
<circle cx="494.7" cy="637.1" r="1.8" fill="#2a2a2a"/>
<circle cx="516.8" cy="627.7" r="1.8" fill="#2a2a2a"/>
<circle cx="523.4" cy="644.1" r="1.8" fill="#2a2a2a"/>
<circle cx="520.1" cy="652.2" r="1.8" fill="#2a2a2a"/>
<line x1="600" y1="651" x2="626" y2="651" stroke="#505050" stroke-width="1.30" stroke-dasharray="3 2"/>
<line x1="630" y1="655" x2="660" y2="655" stroke="#505050" stroke-width="1.30" stroke-dasharray="3 2"/>
<line x1="660" y1="659.6" x2="712" y2="659.6" stroke="#505050" stroke-width="1.30" stroke-dasharray="3 2"/>
<ellipse cx="617.7" cy="650.6" rx="5.5" ry="3" fill="#2a2a2a" stroke="#505050" stroke-width="1.45"/>
<ellipse cx="647.3" cy="654.8" rx="6" ry="3.2" fill="#2a2a2a" stroke="#505050" stroke-width="1.45"/>
<ellipse cx="666.4" cy="659.2" rx="5" ry="2.3" fill="#2a2a2a" stroke="#505050" stroke-width="1.45"/>
<ellipse cx="685.5" cy="659.6" rx="5" ry="2.3" fill="#2a2a2a" stroke="#505050" stroke-width="1.45"/>
<rect x="619.3" y="660" width="12" height="6" rx="3" stroke="#2e2e2e" stroke-width="1.89" fill="none"/>
<g transform="matrix(1,0,0,-1,0,1469.5)"><path d="M97.4,648 L187.9,648 C197,648 204.5,639 206.5,622.2 L527.1,622.4 L540,633.8 C548,639 556,640.5 566,640.5 C584,640.5 604,630 621.5,624 L706.5,624" stroke="#2e2e2e" stroke-width="2.03" fill="none"/>
<line x1="88.5" y1="648" x2="97.4" y2="648" stroke="#505050" stroke-width="1.16" stroke-dasharray="2 2"/>
<path d="M501.3,622.8 L540.2,644.5 C547,649.5 553,650.6 561,650.6 C574,650.6 590,646.5 600.5,645.5 L706.5,650" stroke="#2e2e2e" stroke-width="2.03" fill="none"/>
<path d="M484.9,622.4 L484.9,646.9 L517.3,657.3 C540,664 570,667.8 600,667.8 L706.5,667.8" stroke="#2e2e2e" stroke-width="2.03" fill="none"/>
<line x1="706.5" y1="624" x2="706.5" y2="735" stroke="#2e2e2e" stroke-width="2.17"/>
<line x1="97.4" y1="648" x2="97.4" y2="735" stroke="#2e2e2e" stroke-width="2.03"/>
<line x1="109.6" y1="648" x2="109.6" y2="735" stroke="#2e2e2e" stroke-width="2.03"/>
<path d="M109.9,662.3 L184.3,662.3 C191,662.3 195.9,667 195.9,673.9 L170,673.9" stroke="#2e2e2e" stroke-width="2.03" fill="none"/>
<path d="M165,673.9 L172,671.3 L172,676.5 Z" fill="#2a2a2a" stroke="#505050" stroke-width="0.87"/>
<line x1="158" y1="655.2" x2="196" y2="655.2" stroke="#505050" stroke-width="1.30" stroke-dasharray="3 2"/>
<circle cx="159.5" cy="655.2" r="0.9" fill="#2a2a2a"/>
<circle cx="172.5" cy="655.2" r="1.5" fill="#2a2a2a"/>
<circle cx="185.2" cy="655.2" r="1.9" fill="#2a2a2a"/>
<circle cx="195.2" cy="655.2" r="1.6" fill="#2a2a2a"/>
<rect x="255" y="665.7" width="72.2" height="14.9" stroke="#2e2e2e" stroke-width="2.03" fill="none"/>
<line x1="259.7" y1="673.2" x2="320" y2="673.2" stroke="#505050" stroke-width="1.45"/>
<circle cx="262.7" cy="673.2" r="1.6" fill="#2a2a2a"/>
<circle cx="292.4" cy="673.2" r="1.8" fill="#2a2a2a"/>
<circle cx="307.8" cy="673.2" r="1.0" fill="#2a2a2a"/>
<circle cx="320" cy="673.2" r="1.9" fill="#2a2a2a"/>
<rect x="241.3" y="670.4" width="9.2" height="19" stroke="#2e2e2e" stroke-width="1.89" fill="none"/>
<line x1="244.3" y1="672" x2="244.3" y2="688" stroke="#505050" stroke-width="1.16"/>
<line x1="247.5" y1="672" x2="247.5" y2="688" stroke="#505050" stroke-width="1.16"/>
<line x1="231" y1="674" x2="241" y2="674" stroke="#505050" stroke-width="1.16" stroke-dasharray="2 2"/>
<path d="M501,640 C505,636.5 515,638.5 524,640.5 C530,643 528,652 520,656 C512,652 505,648 502,644 Z" stroke="#2e2e2e" stroke-width="1.89" fill="none"/>
<line x1="489.8" y1="639.6" x2="518.5" y2="639.6" stroke="#505050" stroke-width="1.30" stroke-dasharray="3 2"/>
<circle cx="494.7" cy="637.1" r="1.8" fill="#2a2a2a"/>
<circle cx="516.8" cy="627.7" r="1.8" fill="#2a2a2a"/>
<circle cx="523.4" cy="644.1" r="1.8" fill="#2a2a2a"/>
<circle cx="520.1" cy="652.2" r="1.8" fill="#2a2a2a"/>
<line x1="600" y1="651" x2="626" y2="651" stroke="#505050" stroke-width="1.30" stroke-dasharray="3 2"/>
<line x1="630" y1="655" x2="660" y2="655" stroke="#505050" stroke-width="1.30" stroke-dasharray="3 2"/>
<line x1="660" y1="659.6" x2="712" y2="659.6" stroke="#505050" stroke-width="1.30" stroke-dasharray="3 2"/>
<ellipse cx="617.7" cy="650.6" rx="5.5" ry="3" fill="#2a2a2a" stroke="#505050" stroke-width="1.45"/>
<ellipse cx="647.3" cy="654.8" rx="6" ry="3.2" fill="#2a2a2a" stroke="#505050" stroke-width="1.45"/>
<ellipse cx="666.4" cy="659.2" rx="5" ry="2.3" fill="#2a2a2a" stroke="#505050" stroke-width="1.45"/>
<ellipse cx="685.5" cy="659.6" rx="5" ry="2.3" fill="#2a2a2a" stroke="#505050" stroke-width="1.45"/>
<rect x="619.3" y="660" width="12" height="6" rx="3" stroke="#2e2e2e" stroke-width="1.89" fill="none"/></g>
<line x1="55.7" y1="734.4" x2="202.8" y2="734.8" stroke="#505050" stroke-width="1.74" />
<line x1="217.0" y1="734.8" x2="222.0" y2="734.8" stroke="#505050" stroke-width="1.74" />
<line x1="233.9" y1="734.8" x2="405.5" y2="735.3" stroke="#505050" stroke-width="1.74" />
<line x1="419.4" y1="735.3" x2="424.0" y2="735.3" stroke="#505050" stroke-width="1.74" />
<line x1="435.7" y1="735.4" x2="598.0" y2="735.8" stroke="#505050" stroke-width="1.74" />
<line x1="616.5" y1="735.8" x2="623.5" y2="735.8" stroke="#505050" stroke-width="1.74" />
<line x1="635.1" y1="735.8" x2="700.0" y2="736.0" stroke="#505050" stroke-width="1.74" />
<line x1="102.8" y1="589.4" x2="102.8" y2="648.0" stroke="#505050" stroke-width="1.74" />
<path d="M102.8,638.0 L100.4,631.0 L105.2,631.0 Z" stroke="#505050" stroke-width="0.87" fill="#2a2a2a" />
<line x1="102.8" y1="648.0" x2="102.8" y2="662.0" stroke="#505050" stroke-width="1.16" stroke-dasharray="2 2"/>
<line x1="114.1" y1="586.6" x2="114.1" y2="662.5" stroke="#505050" stroke-width="1.74" />
<rect x="110.3" y="662.5" width="3.9" height="13.0" rx="0" stroke="#505050" stroke-width="1.45" fill="none"/>
<path d="M114.1,680.0 L111.9,674.0 L116.3,674.0 Z" stroke="#505050" stroke-width="0.87" fill="#2a2a2a" />
<line x1="102.8" y1="821.0" x2="102.8" y2="830.0" stroke="#505050" stroke-width="1.74" />
<path d="M102.8,836.0 L100.4,829.0 L105.2,829.0 Z" stroke="#505050" stroke-width="0.87" fill="#2a2a2a" />
<line x1="102.8" y1="806.0" x2="102.8" y2="820.0" stroke="#505050" stroke-width="1.16" stroke-dasharray="2 2"/>
<line x1="113.4" y1="788.0" x2="113.4" y2="862.5" stroke="#505050" stroke-width="1.74" />
<rect x="110.3" y="793.0" width="3.9" height="13.0" rx="0" stroke="#505050" stroke-width="1.45" fill="none"/>
<path d="M113.4,786.5 L115.6,792.5 L111.2,792.5 Z" stroke="#505050" stroke-width="0.87" fill="#2a2a2a" />
<line x1="136.5" y1="807.0" x2="136.5" y2="862.5" stroke="#505050" stroke-width="1.74" />
<text transform="translate(0,881.1) scale(0.95,1)" x="119.79" y="0" font-size="13.4" text-anchor="middle" class="d" fill="#161616">2</text>
<text transform="translate(0,881.1) scale(0.95,1)" x="143.47" y="0" font-size="13.4" text-anchor="middle" class="d" fill="#161616">3</text>
<line x1="351.6" y1="622.2" x2="380.0" y2="622.2" stroke="#1c1c1c" stroke-width="2.46" />
<line x1="366.2" y1="831.4" x2="366.2" y2="847.0" stroke="#505050" stroke-width="1.74" />
<line x1="351.6" y1="847.2" x2="380.0" y2="847.2" stroke="#1c1c1c" stroke-width="2.46" />
<line x1="481.0" y1="596.7" x2="521.2" y2="596.7" stroke="#1c1c1c" stroke-width="2.35" />
<path d="M475.1,596.7 L485.1,593.7 L485.1,599.7 Z" stroke="#505050" stroke-width="0.87" fill="#2a2a2a" />
<line x1="612.3" y1="806.0" x2="612.3" y2="834.0" stroke="#505050" stroke-width="1.74" />
<line x1="642.5" y1="802.5" x2="642.5" y2="830.0" stroke="#505050" stroke-width="1.74" />
<line x1="672.5" y1="797.7" x2="672.5" y2="826.3" stroke="#505050" stroke-width="1.74" />
<line x1="696.0" y1="797.7" x2="696.0" y2="826.3" stroke="#505050" stroke-width="1.74" />
<line x1="307.8" y1="781.0" x2="307.8" y2="809.0" stroke="#505050" stroke-width="1.30" stroke-dasharray="2 2"/>
<line x1="183.4" y1="780.6" x2="183.4" y2="803.7" stroke="#505050" stroke-width="1.30" stroke-dasharray="2 2"/>
<line x1="172.8" y1="793.0" x2="172.8" y2="826.8" stroke="#505050" stroke-width="1.30" stroke-dasharray="2 2"/>
<rect x="264.6" y="862.4" width="23.4" height="23.4" rx="0" stroke="#1c1c1c" stroke-width="2.46" fill="none"/>
<rect x="492.7" y="863.5" width="22.6" height="23.4" rx="0" stroke="#2e2e2e" stroke-width="2.20" fill="none"/>
<text x="276.3" y="878.2" text-anchor="middle" font-family="Liberation Serif" font-weight="bold" font-size="14" fill="#222" textLength="10" lengthAdjust="spacingAndGlyphs">II</text>
<text x="503.6" y="879.2" text-anchor="middle" font-family="Liberation Serif" font-weight="bold" font-size="14" fill="#222">I</text>
<rect x="109.3" y="899.6" width="74.4" height="74.3" rx="2" stroke="#2e2e2e" stroke-width="2.20" fill="none"/>
<rect x="194.5" y="899.1" width="73.7" height="75.0" rx="2" stroke="#2e2e2e" stroke-width="2.20" fill="none"/>
<line x1="115.5" y1="884.6" x2="143.4" y2="898.9" stroke="#505050" stroke-width="1.74" />
<line x1="137.3" y1="884.3" x2="225.9" y2="899.1" stroke="#505050" stroke-width="1.74" />
<ellipse cx="127.1" cy="943.9" rx="8.8" ry="17.4" stroke="#2e2e2e" stroke-width="2.17" fill="none"/>
<ellipse cx="128.5" cy="944.2" rx="5.2" ry="9.8" stroke="#505050" stroke-width="1.74" fill="none"/>
<ellipse cx="128.0" cy="944.5" rx="2.2" ry="4.0" stroke="#505050" stroke-width="1.45" fill="none"/>
<path d="M127,926.6 L152.3,926.2 C158,927 162.5,934 162.5,943.9 C162.5,953 158,960 152.3,961 L127,961.3" stroke="#2e2e2e" stroke-width="2.17" fill="none" />
<line x1="109.3" y1="918.7" x2="126.4" y2="932.3" stroke="#2e2e2e" stroke-width="2.03" />
<line x1="109.3" y1="946.0" x2="119.6" y2="950.0" stroke="#505050" stroke-width="1.74" />
<line x1="152.3" y1="925.5" x2="162.0" y2="914.0" stroke="#505050" stroke-width="1.74" />
<path d="M165.0,910.8 L162.1,917.5 L158.8,914.7 Z" stroke="#505050" stroke-width="0.87" fill="#2a2a2a" />
<path d="M148,969 L151,962 L152,966 L149,969" stroke="#505050" stroke-width="1.45" fill="none" />
<path d="M194.5,927.1 L225.9,916.2 L236.8,916.8 L258.7,920.2 L264.1,914.1 L268.2,910.7" stroke="#505050" stroke-width="1.59" fill="none" />
<line x1="225.9" y1="901.0" x2="225.9" y2="935.0" stroke="#505050" stroke-width="1.45" stroke-dasharray="4 2"/>
<line x1="237.5" y1="901.0" x2="237.5" y2="934.0" stroke="#505050" stroke-width="1.45" stroke-dasharray="4 2"/>
<line x1="224.6" y1="953.7" x2="224.6" y2="974.0" stroke="#505050" stroke-width="1.74" />
<line x1="239.6" y1="952.5" x2="239.6" y2="974.0" stroke="#505050" stroke-width="1.74" />
<path d="M227.3,935.9 L237.5,933.9 L242.3,952.3 L230.7,955.7 Z" stroke="#2e2e2e" stroke-width="2.03" fill="none" />
<path d="M227.3,935.9 L228.5,944.5 L220.5,945.5 L221.0,949.0 L230.7,957.5 L242.3,954.0" stroke="#2e2e2e" stroke-width="2.03" fill="none" />
<text class="cap" x="218.8" y="1048.4" textLength="369.3" lengthAdjust="spacingAndGlyphs" stroke="#262626" stroke-width="0.45">Модели Универсал с 1998 г. выпуска. Днище</text>
</svg>
</body></html>
